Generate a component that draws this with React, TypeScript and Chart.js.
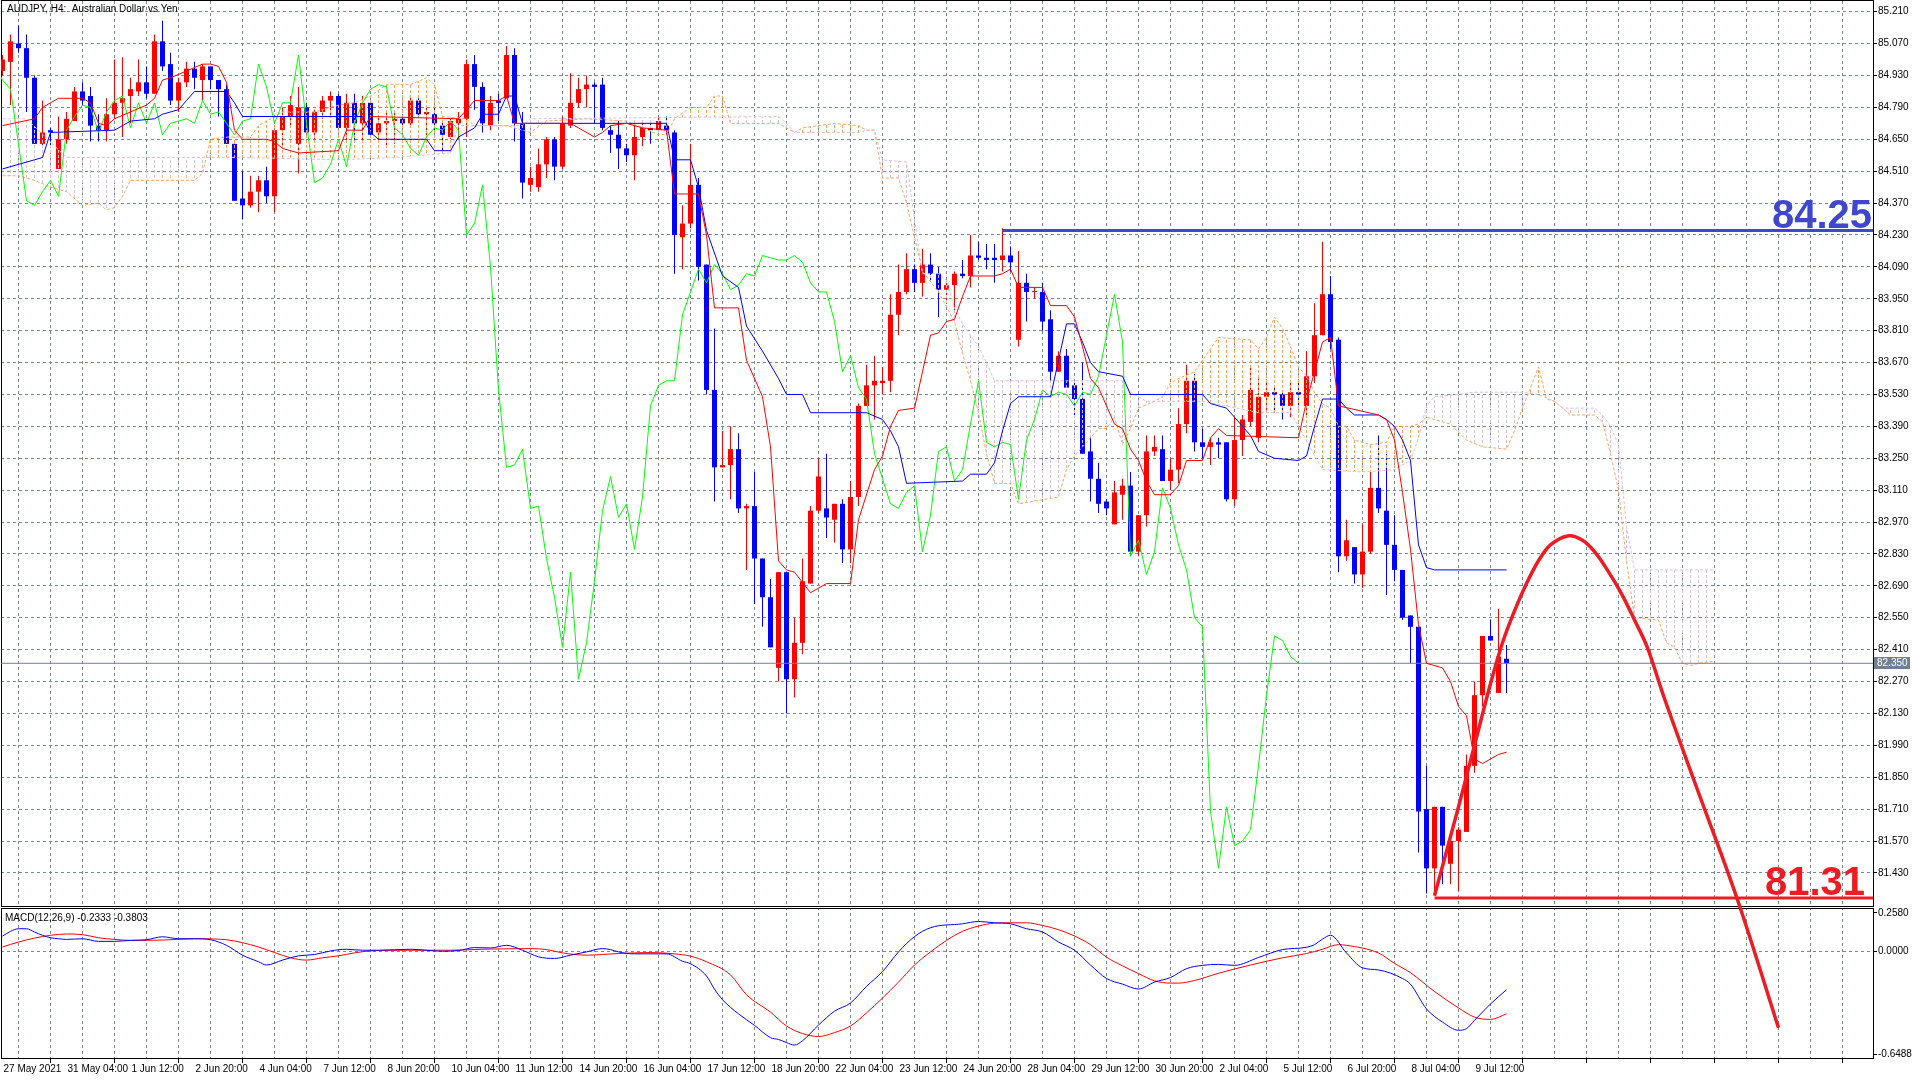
import { useEffect, useRef } from 'react';
import { Chart, registerables } from 'chart.js';

Chart.register(...registerables);

// H4 candles, bar 0 = 27 May 2021
const OPEN = [
  84.95, 84.99, 85.07, 85.05, 84.92, 84.63, 84.69, 84.52, 84.65, 84.73,
  84.86, 84.84, 84.71, 84.69, 84.76, 84.81, 84.84, 84.86, 84.90, 84.85,
  85.08, 84.98, 84.82, 84.90, 84.96, 84.91, 84.97, 84.91, 84.87, 84.63,
  84.39, 84.36, 84.42, 84.47, 84.40, 84.69, 84.75, 84.63, 84.79, 84.68,
  84.77, 84.82, 84.84, 84.70, 84.81, 84.72, 84.81, 84.68, 84.72, 84.73,
  84.74, 84.72, 84.82, 84.76, 84.76, 84.71, 84.66, 84.72, 84.74, 84.98,
  84.88, 84.71, 84.82, 84.83, 85.02, 84.72, 84.45, 84.44, 84.54, 84.65,
  84.53, 84.71, 84.81, 84.87, 84.89, 84.89, 84.69, 84.67, 84.61, 84.58,
  84.66, 84.70, 84.69, 84.71, 84.68, 84.22, 84.28, 84.45, 84.10, 83.55,
  83.21, 83.22, 83.29, 83.03, 83.04, 82.81, 82.64, 82.33, 82.75, 82.28,
  82.44, 82.70, 83.02, 83.03, 82.98, 83.05, 82.85, 83.08, 83.48, 83.57,
  83.58, 83.59, 83.88, 83.98, 84.08, 84.02, 84.10, 84.06, 83.99, 84.01,
  84.06, 84.05, 84.14, 84.13, 84.13, 84.12, 84.14, 83.77, 84.02, 83.98,
  83.98, 83.86, 83.63, 83.70, 83.57, 83.51, 83.28, 83.16, 83.06, 82.96,
  83.09, 83.13, 82.84, 83.00, 83.28, 83.29, 83.15, 83.20, 83.40, 83.59,
  83.32, 83.30, 83.32, 83.32, 83.07, 83.33, 83.41, 83.34, 83.52, 83.54,
  83.53, 83.48, 83.54, 83.48, 83.61, 83.79, 83.97, 83.77, 82.82, 82.86,
  82.74, 82.84, 83.12, 83.02, 82.87, 82.76, 82.56, 82.51, 81.71, 81.45,
  81.72, 81.47, 81.57, 81.61, 81.90, 82.21, 82.47, 82.22, 82.37,
];
const HIGH = [
  85.02, 85.11, 85.15, 85.11, 84.93, 84.82, 84.70, 84.75, 84.77, 84.88,
  84.90, 84.88, 84.76, 84.83, 85.00, 85.01, 84.92, 85.00, 84.97, 85.11,
  85.17, 85.03, 84.92, 84.99, 84.99, 84.98, 84.97, 84.91, 84.89, 84.63,
  84.51, 84.49, 84.49, 84.53, 84.69, 84.79, 84.84, 84.88, 84.81, 84.78,
  84.84, 84.86, 84.85, 84.85, 84.85, 84.84, 84.82, 84.75, 84.77, 84.77,
  84.76, 84.84, 84.83, 84.79, 84.79, 84.73, 84.74, 84.77, 85.00, 85.02,
  84.90, 84.84, 84.85, 85.06, 85.05, 84.77, 84.53, 84.61, 84.66, 84.66,
  84.75, 84.94, 84.92, 84.93, 84.90, 84.92, 84.71, 84.73, 84.63, 84.71,
  84.72, 84.73, 84.75, 84.75, 84.69, 84.36, 84.63, 84.48, 84.10, 83.82,
  83.37, 83.39, 83.36, 83.05, 83.19, 82.81, 82.72, 82.75, 82.75, 82.55,
  82.81, 83.04, 83.25, 83.27, 83.05, 83.07, 83.15, 83.49, 83.66, 83.70,
  83.65, 83.97, 84.10, 84.15, 84.10, 84.17, 84.15, 84.09, 84.03, 84.07,
  84.12, 84.23, 84.20, 84.19, 84.19, 84.26, 84.18, 84.16, 84.06, 84.00,
  84.02, 83.90, 83.72, 83.73, 83.59, 83.67, 83.35, 83.23, 83.07, 83.15,
  83.16, 83.19, 83.00, 83.35, 83.35, 83.35, 83.25, 83.47, 83.66, 83.62,
  83.38, 83.34, 83.34, 83.32, 83.43, 83.44, 83.65, 83.60, 83.58, 83.56,
  83.54, 83.59, 83.59, 83.72, 83.93, 84.20, 84.05, 83.78, 82.98, 82.86,
  82.96, 83.19, 83.35, 83.27, 83.00, 82.76, 82.56, 82.51, 81.90, 81.72,
  81.72, 81.57, 81.63, 81.95, 82.27, 82.47, 82.54, 82.59, 82.43,
];
const LOW = [
  84.93, 84.80, 85.03, 84.77, 84.63, 84.62, 84.62, 84.52, 84.63, 84.73,
  84.80, 84.64, 84.64, 84.64, 84.74, 84.66, 84.72, 84.84, 84.83, 84.85,
  84.95, 84.80, 84.77, 84.88, 84.87, 84.82, 84.87, 84.75, 84.63, 84.38,
  84.30, 84.35, 84.33, 84.37, 84.33, 84.62, 84.70, 84.50, 84.68, 84.65,
  84.74, 84.75, 84.70, 84.64, 84.64, 84.64, 84.67, 84.64, 84.62, 84.63,
  84.70, 84.71, 84.75, 84.66, 84.69, 84.59, 84.65, 84.65, 84.66, 84.78,
  84.68, 84.69, 84.73, 84.83, 84.64, 84.39, 84.42, 84.42, 84.48, 84.47,
  84.52, 84.70, 84.79, 84.79, 84.72, 84.69, 84.59, 84.52, 84.55, 84.47,
  84.62, 84.63, 84.68, 84.67, 84.06, 84.08, 84.26, 84.03, 83.53, 83.06,
  83.21, 83.07, 83.01, 82.76, 82.61, 82.51, 82.42, 82.27, 82.13, 82.20,
  82.39, 82.70, 83.01, 82.90, 82.88, 82.79, 82.79, 83.04, 83.48, 83.42,
  83.53, 83.54, 83.79, 83.97, 83.98, 83.96, 84.03, 83.87, 83.93, 83.90,
  84.04, 84.00, 84.12, 84.08, 84.02, 84.07, 84.07, 83.74, 83.85, 83.95,
  83.81, 83.59, 83.63, 83.56, 83.43, 83.27, 83.06, 83.01, 83.00, 82.96,
  82.98, 82.82, 82.82, 82.95, 83.26, 83.15, 83.11, 83.14, 83.36, 83.28,
  83.25, 83.22, 83.25, 83.06, 83.04, 83.26, 83.39, 83.32, 83.45, 83.45,
  83.42, 83.43, 83.47, 83.43, 83.58, 83.79, 83.73, 82.75, 82.80, 82.70,
  82.68, 82.83, 83.01, 82.65, 82.71, 82.54, 82.35, 81.52, 81.34, 81.34,
  81.38, 81.38, 81.35, 81.61, 81.87, 82.16, 82.45, 82.22, 82.22,
];
const CLOSE = [
  85.00, 85.08, 85.05, 84.92, 84.63, 84.68, 84.68, 84.65, 84.74, 84.86,
  84.82, 84.71, 84.69, 84.76, 84.81, 84.83, 84.87, 84.90, 84.85, 85.08,
  84.97, 84.82, 84.90, 84.96, 84.92, 84.97, 84.91, 84.87, 84.63, 84.38,
  84.36, 84.42, 84.47, 84.40, 84.69, 84.75, 84.80, 84.79, 84.68, 84.77,
  84.82, 84.84, 84.70, 84.81, 84.72, 84.81, 84.67, 84.72, 84.73, 84.74,
  84.72, 84.82, 84.76, 84.77, 84.72, 84.67, 84.73, 84.74, 84.98, 84.88,
  84.72, 84.81, 84.81, 85.02, 84.72, 84.46, 84.48, 84.54, 84.65, 84.53,
  84.72, 84.81, 84.87, 84.89, 84.88, 84.70, 84.67, 84.61, 84.58, 84.66,
  84.70, 84.69, 84.73, 84.69, 84.23, 84.28, 84.45, 84.09, 83.55, 83.21,
  83.22, 83.29, 83.03, 83.04, 82.81, 82.64, 82.42, 82.75, 82.28, 82.44,
  82.71, 83.02, 83.17, 82.99, 83.05, 82.85, 83.08, 83.48, 83.57, 83.59,
  83.59, 83.88, 83.98, 84.08, 84.02, 84.10, 84.06, 83.99, 84.01, 84.06,
  84.05, 84.14, 84.13, 84.12, 84.12, 84.14, 84.11, 84.02, 83.98, 83.98,
  83.85, 83.63, 83.70, 83.56, 83.51, 83.27, 83.16, 83.05, 83.03, 83.10,
  83.13, 82.84, 83.00, 83.28, 83.30, 83.15, 83.20, 83.40, 83.59, 83.32,
  83.30, 83.32, 83.31, 83.07, 83.33, 83.42, 83.55, 83.52, 83.54, 83.53,
  83.48, 83.54, 83.53, 83.61, 83.79, 83.97, 83.76, 82.82, 82.89, 82.74,
  82.84, 83.12, 83.03, 82.87, 82.76, 82.55, 82.51, 81.70, 81.45, 81.72,
  81.55, 81.57, 81.62, 81.90, 82.21, 82.47, 82.45, 82.38, 82.35,
];

// Ichimoku lines as [bar, price] vertices
const TENKAN: [number, number][] = [
  [0, 84.71], [4, 84.74], [5, 84.79], [7, 84.83], [10, 84.83], [11, 84.81], [12, 84.72], [13, 84.71], [14, 84.74],
  [16, 84.77], [18, 84.80], [19, 84.83], [20, 84.91], [21, 84.92], [23, 84.95], [25, 84.98], [26, 84.98], [27, 84.97],
  [28, 84.90], [29, 84.69], [30, 84.65], [33, 84.65], [34, 84.64], [35, 84.61], [37, 84.59], [42, 84.60], [43, 84.69],
  [45, 84.69], [46, 84.75], [57, 84.74], [58, 84.78], [59, 84.82], [62, 84.82], [63, 84.84], [64, 84.72], [71, 84.72],
  [72, 84.70], [74, 84.66], [75, 84.68], [76, 84.71], [78, 84.72], [80, 84.70], [83, 84.69], [84, 84.41], [87, 84.41],
  [88, 84.23], [89, 83.91], [92, 83.91], [93, 83.68], [95, 83.52], [96, 83.30], [97, 82.80], [98, 82.76], [99, 82.75],
  [101, 82.66], [103, 82.70], [106, 82.70], [107, 82.98], [109, 83.20], [110, 83.26], [111, 83.39], [112, 83.46],
  [114, 83.47], [115, 83.63], [116, 83.79], [117, 83.80], [118, 83.85], [119, 83.86], [120, 83.96], [121, 84.05],
  [124, 84.05], [125, 84.06], [126, 84.08], [127, 84.00], [130, 84.00], [131, 83.92], [133, 83.92], [134, 83.87],
  [135, 83.74], [136, 83.60], [137, 83.56], [138, 83.48], [139, 83.40], [140, 83.38], [141, 83.29], [142, 83.24],
  [143, 83.15], [144, 83.09], [146, 83.09], [147, 83.13], [148, 83.24], [150, 83.24], [151, 83.34], [152, 83.38],
  [153, 83.35], [162, 83.34], [163, 83.50], [164, 83.63], [165, 83.76], [166, 83.78], [167, 83.48], [172, 83.44],
  [173, 83.42], [174, 83.33], [175, 83.10], [176, 82.85], [177, 82.52], [178, 82.35], [180, 82.33], [181, 82.27],
  [182, 82.16], [183, 82.12], [184, 81.93], [185, 81.91], [186, 81.93], [187, 81.95], [188, 81.96],
];
const KIJUN: [number, number][] = [
  [0, 84.52], [4, 84.56], [5, 84.57], [6, 84.68], [14, 84.69], [16, 84.73], [19, 84.74], [20, 84.76], [22, 84.78],
  [23, 84.82], [24, 84.86], [28, 84.86], [29, 84.81], [30, 84.75], [45, 84.75], [46, 84.68], [47, 84.65], [53, 84.65],
  [54, 84.60], [56, 84.60], [57, 84.66], [59, 84.70], [60, 84.76], [62, 84.76], [63, 84.84], [64, 84.84], [65, 84.72],
  [83, 84.72], [84, 84.56], [86, 84.56], [87, 84.44], [88, 84.25], [90, 84.05], [92, 84.00], [93, 83.83], [95, 83.72],
  [97, 83.60], [98, 83.53], [100, 83.53], [101, 83.45], [108, 83.45], [110, 83.42], [111, 83.37], [112, 83.30],
  [113, 83.14], [120, 83.15], [121, 83.18], [123, 83.18], [124, 83.23], [125, 83.37], [126, 83.49], [127, 83.52],
  [131, 83.52], [132, 83.68], [133, 83.84], [134, 83.84], [135, 83.76], [136, 83.67], [137, 83.63], [140, 83.61],
  [141, 83.53], [150, 83.53], [151, 83.49], [153, 83.47], [154, 83.43], [156, 83.35], [157, 83.28], [159, 83.25],
  [162, 83.24], [163, 83.26], [164, 83.39], [165, 83.51], [167, 83.51], [168, 83.47], [169, 83.44], [172, 83.44],
  [173, 83.42], [174, 83.39], [175, 83.33], [176, 83.24], [177, 82.87], [178, 82.77], [179, 82.76], [188, 82.76],
];
const SPAN_A: [number, number][] = [
  [0, 84.49], [2, 84.49], [4, 84.47], [6, 84.44], [8, 84.42], [10, 84.36], [12, 84.37], [13, 84.34], [14, 84.35],
  [15, 84.40], [16, 84.47], [24, 84.47], [25, 84.50], [26, 84.65], [28, 84.66], [31, 84.66], [32, 84.71], [34, 84.75],
  [35, 84.77], [39, 84.77], [42, 84.80], [44, 84.81], [46, 84.84], [48, 84.89], [51, 84.89], [53, 84.92], [54, 84.89],
  [55, 84.75], [58, 84.74], [59, 84.71], [63, 84.71], [66, 84.68], [68, 84.73], [73, 84.74], [78, 84.73], [80, 84.70],
  [82, 84.67], [83, 84.67], [84, 84.74], [86, 84.79], [88, 84.79], [89, 84.84], [90, 84.84], [91, 84.72], [97, 84.72],
  [98, 84.70], [99, 84.68], [100, 84.70], [102, 84.71], [104, 84.72], [107, 84.71], [108, 84.69], [109, 84.69],
  [110, 84.48], [112, 84.48], [113, 84.37], [114, 84.22], [115, 84.07], [117, 83.98], [119, 83.85], [120, 83.71],
  [121, 83.59], [122, 83.45], [123, 83.27], [124, 83.14], [126, 83.14], [127, 83.05], [132, 83.08], [133, 83.20],
  [134, 83.26], [135, 83.30], [137, 83.38], [138, 83.38], [139, 83.43], [140, 83.31], [141, 83.38], [142, 83.47],
  [144, 83.50], [145, 83.52], [146, 83.58], [147, 83.60], [149, 83.63], [150, 83.68], [152, 83.78], [156, 83.77],
  [157, 83.73], [158, 83.78], [159, 83.87], [160, 83.82], [161, 83.74], [162, 83.65], [163, 83.61], [164, 83.54],
  [165, 83.49], [166, 83.47], [167, 83.39], [168, 83.39], [169, 83.33], [171, 83.31], [173, 83.32], [174, 83.39],
  [176, 83.39], [177, 83.40], [178, 83.43], [179, 83.42], [181, 83.40], [183, 83.33], [185, 83.30], [188, 83.29],
  [189, 83.37], [190, 83.47], [191, 83.56], [192, 83.65], [193, 83.51], [194, 83.50], [195, 83.47], [196, 83.44],
  [199, 83.44], [200, 83.41], [201, 83.27], [202, 83.11], [203, 82.80], [204, 82.55], [207, 82.54], [208, 82.44],
  [209, 82.42], [210, 82.35], [211, 82.34], [212, 82.35], [214, 82.36],
];
const SPAN_B: [number, number][] = [
  [0, 84.74], [3, 84.74], [8, 84.57], [30, 84.57], [42, 84.56], [49, 84.57], [56, 84.59], [57, 84.71], [65, 84.71],
  [66, 84.74], [97, 84.75], [98, 84.72], [99, 84.68], [107, 84.68], [108, 84.69], [109, 84.69], [110, 84.56],
  [113, 84.55], [114, 84.30], [115, 84.06], [117, 84.06], [118, 84.03], [119, 83.91], [120, 83.84], [121, 83.79],
  [122, 83.74], [123, 83.67], [124, 83.59], [140, 83.59], [141, 83.54], [143, 83.50], [150, 83.50], [153, 83.48],
  [157, 83.45], [161, 83.45], [162, 83.39], [165, 83.20], [170, 83.19], [174, 83.20], [176, 83.24], [177, 83.34],
  [178, 83.48], [179, 83.52], [182, 83.53], [184, 83.54], [190, 83.54], [192, 83.53], [194, 83.50], [195, 83.47],
  [199, 83.47], [200, 83.44], [201, 83.39], [202, 83.31], [203, 82.95], [204, 82.76], [214, 82.76],
];
const CHIKOU_SHIFT = 26;

// MACD(12,26,9) as [bar, value]
const MACD_MAIN: [number, number][] = [
  [0, 0.093], [1, 0.122], [2, 0.138], [3, 0.138], [4, 0.118], [5, 0.098], [6, 0.083], [7, 0.077], [8, 0.073],
  [10, 0.077], [12, 0.061], [14, 0.061], [16, 0.067], [18, 0.071], [20, 0.089], [22, 0.077], [24, 0.077], [26, 0.071],
  [28, 0.037], [30, -0.023], [32, -0.063], [33, -0.083], [35, -0.053], [37, -0.027], [39, -0.019], [41, 0.003],
  [43, 0.013], [45, 0.007], [47, 0.007], [51, 0.013], [55, 0.001], [57, 0.005], [59, 0.023], [61, 0.021], [63, 0.037],
  [65, 0.007], [67, -0.033], [69, -0.043], [71, -0.023], [73, -0.003], [75, 0.017], [76, 0.011], [77, -0.003],
  [79, -0.015], [83, -0.015], [85, -0.060], [86, -0.075], [88, -0.150], [89, -0.230], [90, -0.294], [92, -0.380],
  [94, -0.450], [96, -0.525], [97, -0.536], [98, -0.555], [99, -0.570], [100, -0.544], [102, -0.448], [104, -0.364],
  [106, -0.314], [108, -0.213], [110, -0.123], [112, -0.003], [114, 0.090], [116, 0.144], [120, 0.168], [122, 0.182],
  [124, 0.174], [126, 0.168], [128, 0.138], [130, 0.118], [132, 0.057], [134, 0.007], [136, -0.083], [138, -0.165],
  [140, -0.199], [142, -0.229], [144, -0.187], [146, -0.159], [148, -0.105], [150, -0.085], [152, -0.079],
  [154, -0.085], [157, -0.037], [160, 0.011], [163, 0.025], [164, 0.041], [165, 0.075], [166, 0.098], [168, -0.010],
  [170, -0.100], [172, -0.113], [175, -0.165], [176, -0.200], [178, -0.350], [180, -0.430], [182, -0.480],
  [183, -0.470], [184, -0.420], [186, -0.320], [188, -0.2333],
];
const MACD_SIGNAL: [number, number][] = [
  [0, 0.027], [2, 0.057], [4, 0.081], [6, 0.098], [8, 0.106], [10, 0.102], [12, 0.083], [14, 0.073], [16, 0.067],
  [20, 0.069], [24, 0.077], [28, 0.071], [30, 0.053], [32, 0.027], [34, -0.007], [36, -0.039], [38, -0.053],
  [40, -0.039], [42, -0.027], [44, -0.009], [46, 0.003], [50, 0.007], [56, 0.007], [60, 0.013], [66, 0.017],
  [68, 0.011], [70, -0.009], [73, -0.023], [77, -0.013], [81, -0.007], [84, -0.015], [86, -0.029], [88, -0.063],
  [91, -0.143], [93, -0.264], [96, -0.370], [98, -0.454], [100, -0.500], [102, -0.518], [104, -0.494], [106, -0.454],
  [108, -0.374], [110, -0.284], [112, -0.187], [114, -0.083], [116, -0.003], [118, 0.067], [120, 0.122], [122, 0.154],
  [124, 0.172], [126, 0.174], [128, 0.174], [130, 0.158], [132, 0.132], [134, 0.094], [136, 0.041], [138, -0.035],
  [140, -0.088], [142, -0.135], [144, -0.179], [146, -0.193], [147, -0.193], [149, -0.177], [152, -0.133],
  [156, -0.083], [160, -0.039], [163, -0.013], [165, 0.013], [167, 0.041], [168, 0.037], [172, -0.010], [174, -0.073],
  [176, -0.130], [179, -0.244], [182, -0.344], [184, -0.400], [186, -0.414], [188, -0.3803],
];

// hand-drawn projection curve [bar, price]
const CURVE: [number, number][] = [
  [179, 81.33], [182, 81.72], [184, 81.99], [186, 82.26], [187.5, 82.44], [189, 82.58], [190.5, 82.70], [192, 82.80],
  [193.5, 82.87], [195.8, 82.91], [197.5, 82.89], [199, 82.84], [200.6, 82.76], [202.3, 82.66], [204, 82.54],
  [205.6, 82.42], [207.7, 82.20], [211.4, 81.84], [216.8, 81.32], [222, 80.75],
];

const TIME_LABELS = [
  '27 May 2021', '31 May 04:00', '1 Jun 12:00', '2 Jun 20:00', '4 Jun 04:00', '7 Jun 12:00', '8 Jun 20:00',
  '10 Jun 04:00', '11 Jun 12:00', '14 Jun 20:00', '16 Jun 04:00', '17 Jun 12:00', '18 Jun 20:00', '22 Jun 04:00',
  '23 Jun 12:00', '24 Jun 20:00', '28 Jun 04:00', '29 Jun 12:00', '30 Jun 20:00', '2 Jul 04:00', '5 Jul 12:00',
  '6 Jul 20:00', '8 Jul 04:00', '9 Jul 12:00',
];
const PRICE_TICKS = [
  85.21, 85.07, 84.93, 84.79, 84.65, 84.51, 84.37, 84.23, 84.09, 83.95, 83.81, 83.67, 83.53, 83.39,
  83.25, 83.11, 82.97, 82.83, 82.69, 82.55, 82.41, 82.27, 82.13, 81.99, 81.85, 81.71, 81.57, 81.43,
];
const MACD_TICK_LABELS = ['0.2580', '0.0000', '-0.6488'];

const LAST_PRICE = 82.35;
const RESIST_PRICE = 84.25;
const RESIST_BAR = 125;
const SUPPORT_PRICE = 81.32;
const SUPPORT_BAR = 179;
const SUPPORT_TEXT = '81.31';
const TITLE = 'AUDJPY, H4:  Australian Dollar vs Yen';
const MACD_TITLE = 'MACD(12,26,9) -0.2333 -0.3803';

// layout (pixels / axis bounds)
const X_MIN = -0.1875;
const X_MAX = 233.8125;
const PRICE_MIN = 81.276;
const PRICE_MAX = 85.257;
const MACD_MIN = -0.6549;
const MACD_MAX = 0.2641;
const MACD_LABEL_POS = [0.2337, 0, -0.6245];
const FONT = '"Liberation Sans", Arial, sans-serif';
const GRID = '#778899';
const BULL = '#ff0000';
const BEAR = '#0000ff';
const LEVEL_BLUE = '#3f48cc';
const LEVEL_RED = '#ed1c24';

const pts = (arr: [number, number][]) => arr.map(([x, y]) => ({ x, y }));

function hatch(color: string) {
  const c = document.createElement('canvas');
  c.width = 8; c.height = 5;
  const g = c.getContext('2d')!;
  g.fillStyle = color;
  g.fillRect(2, 0, 1, 3);
  return g.createPattern(c, 'repeat')!;
}

const mt5Frame = {
  id: 'mt5Frame',
  beforeDatasetsDraw(chart: any) {
    const { ctx, chartArea } = chart;
    const split = chart.scales.y2.top;
    ctx.save();
    ctx.fillStyle = '#fff';
    ctx.fillRect(chartArea.left, split - 1, chartArea.right - chartArea.left + 1, 1);
    ctx.strokeStyle = '#000';
    ctx.lineWidth = 1;
    ctx.strokeRect(chartArea.left + 0.5, 0.5, chartArea.right - chartArea.left, split - 2);
    ctx.strokeRect(chartArea.left + 0.5, split + 0.5, chartArea.right - chartArea.left, chartArea.bottom - split - 1);
    ctx.restore();
  },
  afterDraw(chart: any) {
    const { ctx, chartArea } = chart;
    const y = chart.scales.y;
    ctx.save();
    ctx.fillStyle = '#000';
    ctx.font = `10px ${FONT}`;
    ctx.textBaseline = 'middle';
    ctx.textAlign = 'left';
    ctx.fillText(TITLE, 7, 9);
    ctx.fillText(MACD_TITLE, 5, chart.scales.y2.top + 10);

    const py = Math.round(y.getPixelForValue(LAST_PRICE));
    ctx.fillStyle = '#708090';
    ctx.fillRect(chartArea.right + 1, py - 6, 36, 12);
    ctx.fillStyle = '#fff';
    ctx.fillText(LAST_PRICE.toFixed(3), chartArea.right + 4, py);

    ctx.font = `bold 40px ${FONT}`;
    ctx.textAlign = 'right';
    ctx.textBaseline = 'alphabetic';
    ctx.fillStyle = LEVEL_BLUE;
    ctx.fillText(RESIST_PRICE.toFixed(2), chartArea.right - 1, y.getPixelForValue(RESIST_PRICE) - 2);
    ctx.fillStyle = LEVEL_RED;
    ctx.fillText(SUPPORT_TEXT, chartArea.right - 8, y.getPixelForValue(SUPPORT_PRICE) - 3);
    ctx.restore();
  },
};

const noPad = (s: any) => { s.paddingTop = 0; s.paddingBottom = 0; s.paddingLeft = 0; s.paddingRight = 0; };

export default function App() {
  const ref = useRef<HTMLCanvasElement>(null);

  useEffect(() => {
    document.body.style.margin = '0';
    if (!ref.current) return;
    Chart.defaults.font.family = FONT;
    Chart.defaults.font.size = 10;
    Chart.defaults.color = '#000';

    const colors = OPEN.map((o, i) => (CLOSE[i] >= o ? BULL : BEAR));
    const line = (data: any[], color: string, extra: any = {}) => ({
      type: 'line', data, borderColor: color, borderWidth: 1, pointRadius: 0, tension: 0, yAxisID: 'y', ...extra,
    });

    const chart = new Chart(ref.current, {
      type: 'line',
      data: {
        datasets: [
          line(pts(SPAN_A), '#f4a460', { borderDash: [3, 2], order: 6 }),
          line(pts(SPAN_B), '#d8bfd8', {
            borderDash: [3, 2], order: 5,
            fill: { target: 0, above: hatch('#d8bfd8'), below: hatch('#f4a460') },
          }),
          line(pts(TENKAN), '#ff0000', { order: 3 }),
          line(pts(KIJUN), '#0000ff', { order: 3 }),
          line(CLOSE.map((c, i) => ({ x: i - CHIKOU_SHIFT, y: c })), '#00ff00', { order: 3 }),
          {
            type: 'bar', data: LOW.map((l, i) => ({ x: i, y: [l, HIGH[i]] })), backgroundColor: colors,
            barThickness: 1, grouped: false, inflateAmount: 0, minBarLength: 1, yAxisID: 'y', order: 10,
          },
          {
            type: 'bar', data: OPEN.map((o, i) => ({ x: i, y: [o, CLOSE[i]] })), backgroundColor: colors,
            barThickness: 5, grouped: false, inflateAmount: 0, minBarLength: 1, yAxisID: 'y', order: 9,
          },
          line([{ x: X_MIN, y: LAST_PRICE }, { x: X_MAX, y: LAST_PRICE }], '#708090', { order: 4 }),
          line([{ x: RESIST_BAR, y: RESIST_PRICE }, { x: X_MAX, y: RESIST_PRICE }], LEVEL_BLUE, { borderWidth: 3, order: 1 }),
          line([{ x: SUPPORT_BAR, y: SUPPORT_PRICE }, { x: X_MAX, y: SUPPORT_PRICE }], LEVEL_RED, { borderWidth: 3, order: 1 }),
          line(pts(CURVE), LEVEL_RED, { borderWidth: 3.5, tension: 0.35, order: 0, clip: false }),
          line(pts(MACD_MAIN), '#0000ff', { yAxisID: 'y2', cubicInterpolationMode: 'monotone', order: 2 }),
          line(pts(MACD_SIGNAL), '#ff0000', { yAxisID: 'y2', cubicInterpolationMode: 'monotone', order: 2 }),
        ] as any,
      },
      options: {
        responsive: false,
        devicePixelRatio: 1,
        animation: false,
        events: [],
        layout: { padding: { left: 1, top: 1, right: 0, bottom: 0 } },
        plugins: { legend: { display: false }, tooltip: { enabled: false } },
        scales: {
          x: {
            type: 'linear', min: X_MIN, max: X_MAX, offset: false,
            afterBuildTicks: (s: any) => { s.ticks = Array.from({ length: 59 }, (_, k) => ({ value: k * 4 })); },
            afterFit: (s: any) => { s.height = 21; noPad(s); },
            ticks: {
              autoSkip: false, maxRotation: 0, align: 'start', padding: 0, labelOffset: 1,
              callback: (v: any) => (Number(v) % 8 === 0 ? TIME_LABELS[Number(v) / 8] ?? '' : ''),
            },
            grid: {
              color: GRID, tickLength: 4, tickBorderDash: [],
              tickColor: (c: any) => (c.tick && c.tick.value % 8 === 0 ? '#000' : 'rgba(0,0,0,0)'),
            },
            border: { display: false, dash: [3, 3] },
          },
          y: {
            type: 'linear', position: 'right', stack: 'pane', stackWeight: 907, min: PRICE_MIN, max: PRICE_MAX,
            afterBuildTicks: (s: any) => { s.ticks = PRICE_TICKS.map((value) => ({ value })); },
            afterFit: (s: any) => { s.width = 47; noPad(s); },
            ticks: { padding: 1, callback: (v: any) => Number(v).toFixed(3) },
            grid: { color: GRID, tickColor: '#000', tickLength: 4, tickBorderDash: [] },
            border: { display: false, dash: [3, 3] },
          },
          y2: {
            type: 'linear', position: 'right', stack: 'pane', stackWeight: 151, min: MACD_MIN, max: MACD_MAX,
            afterBuildTicks: (s: any) => { s.ticks = MACD_LABEL_POS.map((value) => ({ value })); },
            afterFit: (s: any) => { s.width = 47; noPad(s); },
            ticks: { padding: 1, callback: (_v: any, i: number) => MACD_TICK_LABELS[i] },
            grid: {
              color: (c: any) => (c.tick && c.tick.value === 0 ? GRID : 'rgba(0,0,0,0)'),
              tickColor: '#000', tickLength: 4, tickBorderDash: [],
            },
            border: { display: false, dash: [3, 3] },
          },
        },
      } as any,
      plugins: [mt5Frame],
    });
    return () => chart.destroy();
  }, []);

  return (
    <div style={{ width: 1920, height: 1080, background: '#fff' }}>
      <canvas ref={ref} width={1920} height={1080} style={{ display: 'block' }} />
    </div>
  );
}
